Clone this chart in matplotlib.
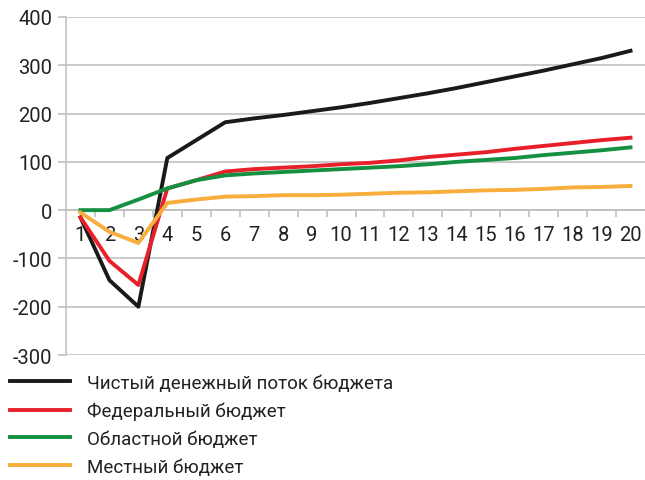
import numpy as np
import matplotlib.pyplot as plt
from matplotlib.ticker import MultipleLocator

plt.rcParams['font.family'] = ['Roboto', 'DejaVu Sans']
plt.rcParams['axes.unicode_minus'] = False

years = np.arange(1, 21)
net_flow = [-15, -145, -200, 108, 145, 182, 190, 197, 205, 213,
            222, 232, 242, 253, 265, 277, 289, 302, 315, 330]
federal = [-15, -105, -155, 45, 62, 80, 85, 88, 91, 95,
           98, 103, 110, 115, 120, 127, 133, 139, 145, 150]
regional = [0, 0, 22, 45, 62, 72, 76, 79, 82, 85,
            88, 91, 95, 100, 104, 108, 114, 119, 124, 130]
local = [-5, -45, -68, 15, 22, 28, 29, 31, 31, 32,
         34, 36, 37, 39, 41, 42, 44, 47, 48, 50]
labels = ['Чистый денежный поток бюджета', 'Федеральный бюджет',
          'Областной бюджет', 'Местный бюджет']

fig = plt.figure(figsize=(6.45, 4.81), dpi=100)
ax = fig.add_axes([66/645, 1 - 356/481, 1 - 66/645, (356 - 18)/481])

grid_c = '#c0c0c0'
ax.plot(years, net_flow, color='#1a1a1a', lw=2.8, label=labels[0], zorder=3)
ax.plot(years, federal, color='#e8202a', lw=2.8, label=labels[1], zorder=3)
ax.plot(years, regional, color='#139040', lw=2.8, label=labels[2], zorder=3)
ax.plot(years, local, color='#f9ad3c', lw=2.8, label=labels[3], zorder=3)

ax.set_xlim(0.5, 20.5)
ax.set_ylim(-300, 400)
ax.yaxis.set_major_locator(MultipleLocator(100))
ax.grid(axis='y', color=grid_c, lw=1.2)
ax.set_xticks(years)
ax.set_xticks(np.arange(1.5, 20.5, 1), minor=True)

for s in ['top', 'right']:
    ax.spines[s].set_visible(False)
ax.spines['left'].set_color(grid_c)
ax.spines['left'].set_linewidth(1.2)
ax.spines['bottom'].set_position(('data', 0))
ax.spines['bottom'].set_color(grid_c)
ax.spines['bottom'].set_linewidth(1.2)

ax.tick_params(axis='x', which='major', length=0, pad=11, labelsize=14.5, labelcolor='#222222')
ax.tick_params(axis='x', which='minor', length=5, color=grid_c, width=1.2)
ax.tick_params(axis='y', length=6, color=grid_c, width=1.2, pad=4, labelsize=14.5, labelcolor='#222222')

fig.legend(loc='upper left', bbox_to_anchor=(10/645, 1 - 375/481), frameon=False,
           fontsize=13.5, handlelength=3.2, handletextpad=0.9, labelspacing=0.52,
           borderpad=0, borderaxespad=0, labelcolor='#222222')

plt.savefig('out.png', dpi=100)
